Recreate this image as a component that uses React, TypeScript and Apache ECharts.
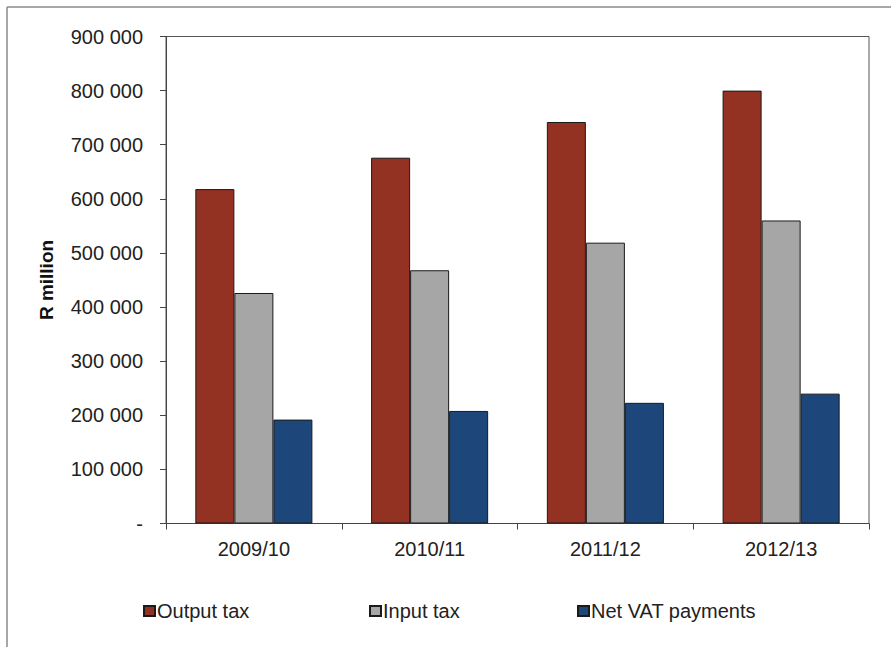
import React, { useEffect, useRef } from "react";
import * as echarts from "echarts";

const categories = ["2009/10", "2010/11", "2011/12", "2012/13"];
const outputTax = [618000, 676000, 742000, 800000];
const inputTax = [426000, 468000, 519000, 560000];
const netVat = [192000, 208000, 223000, 240000];
const seriesNames = ["Output tax", "Input tax", "Net VAT payments"];
const seriesColors = ["#933122", "#A6A6A6", "#1D477B"];

const FONT = "'Liberation Sans', Arial, sans-serif";

function fmt(v: number): string {
  if (v === 0) return "-";
  return String(Math.round(v)).replace(/\B(?=(\d{3})+(?!\d))/g, " ");
}

export default function App() {
  const ref = useRef<HTMLDivElement>(null);
  useEffect(() => {
    if (!ref.current) return;
    const chart = echarts.init(ref.current, undefined, { renderer: "svg" });
    const values = [outputTax, inputTax, netVat];
    const legendLefts = [143, 369, 577];
    chart.setOption({
      animation: false,
      backgroundColor: "#ffffff",
      textStyle: { fontFamily: FONT },
      grid: {
        left: 166,
        top: 36.5,
        right: 22,
        bottom: 123.5,
        show: true,
        borderColor: "#555",
        borderWidth: 1,
        backgroundColor: "transparent",
      },
      legend: seriesNames.map((n, i) => ({
        data: [n],
        left: legendLefts[i],
        top: 601,
        padding: 0,
        icon: "rect",
        itemWidth: 11,
        itemHeight: 10,
        itemGap: 0,
        textStyle: { fontSize: 20, color: "#222", fontFamily: FONT, padding: [0, 0, 0, -3] },
        selectedMode: false,
      })),
      xAxis: {
        type: "category",
        data: categories,
        axisLine: { lineStyle: { color: "#444", width: 1 } },
        axisTick: { show: true, length: 6, lineStyle: { color: "#444" } },
        axisLabel: { fontSize: 20, color: "#222", margin: 15, fontFamily: FONT },
      },
      yAxis: {
        type: "value",
        min: 0,
        max: 900000,
        interval: 100000,
        name: "R million",
        nameLocation: "middle",
        nameGap: 110,
        nameRotate: 90,
        nameTextStyle: { fontSize: 19, fontWeight: "bold", color: "#111", fontFamily: FONT },
        axisLine: { show: true, lineStyle: { color: "#444", width: 1 } },
        axisTick: { show: true, length: 6, lineStyle: { color: "#444" } },
        splitLine: { show: false },
        axisLabel: {
          fontSize: 20,
          color: "#222",
          margin: 23,
          fontFamily: FONT,
          formatter: (v: number) => fmt(v),
        },
      },
      series: seriesNames.map((n, i) => ({
        name: n,
        type: "bar",
        data: values[i],
        barGap: "0%",
        barCategoryGap: "33.4%",
        itemStyle: { color: seriesColors[i], borderColor: "#1a1a1a", borderWidth: 1 },
      })),
      graphic: [
        { type: "line", shape: { x1: 7, y1: 7, x2: 891, y2: 7 }, style: { stroke: "#8a8a8a", lineWidth: 1.5 } },
        { type: "line", shape: { x1: 7, y1: 7, x2: 7, y2: 647 }, style: { stroke: "#8a8a8a", lineWidth: 1.5 } },
      ],
    });
    return () => chart.dispose();
  }, []);
  return <div ref={ref} style={{ width: 891, height: 647, position: "absolute", left: 0, top: 0 }} />;
}
